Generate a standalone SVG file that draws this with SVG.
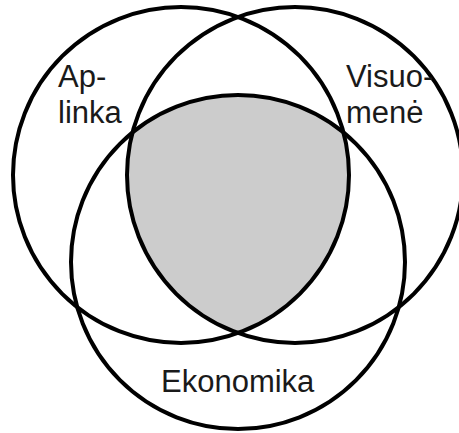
<svg xmlns="http://www.w3.org/2000/svg" width="459" height="433" viewBox="0 0 459 433">
<style>
.c{fill:none;stroke:#000;stroke-width:4}
.t{font-family:"Liberation Sans",Arial,sans-serif;font-size:31px;fill:#1a1a1a}
</style>
<defs>
<clipPath id="cL"><circle cx="181" cy="175" r="168"/></clipPath>
<clipPath id="cR"><circle cx="295" cy="175" r="168"/></clipPath>
</defs>
<rect width="459" height="433" fill="#fff"/>
<g id="core" clip-path="url(#cL)"><circle cx="238" cy="262" r="167" fill="#cccccc" clip-path="url(#cR)"/></g>
<g id="aplinka"><circle class="c" cx="181" cy="175" r="168"/><text class="t" x="58" y="87">Ap-</text><text class="t" x="58" y="123">linka</text></g>
<g id="visuomene"><circle class="c" cx="295" cy="175" r="168"/><text class="t" x="346" y="87">Visuo-</text><text class="t" x="346" y="123">menė</text></g>
<g id="ekonomika"><circle class="c" cx="238" cy="262" r="167"/><text class="t" x="161" y="392">Ekonomika</text></g>
<g id="connectors"/>
</svg>
